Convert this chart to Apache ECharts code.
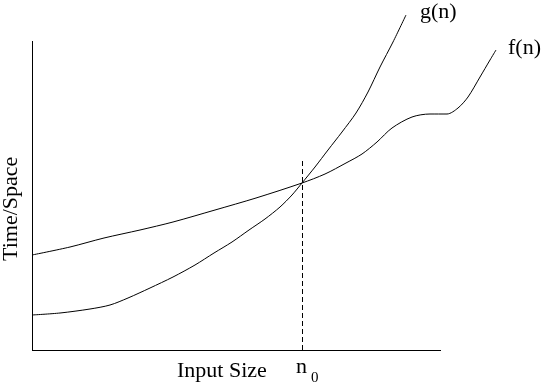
<!DOCTYPE html>
<html><head><meta charset="utf-8">
<script src="https://cdn.jsdelivr.net/npm/echarts@6/dist/echarts.min.js"></script>
<style>html,body{margin:0;padding:0;background:#fff}#c{width:542px;height:385px}</style>
</head><body><div id="c"></div>
<script>
// Curve samples [input size, time/space] in arbitrary axis units
const gData = [[0,35],[28,37],[58,41],[78,45],[96,52],[118,62],[141,73],[163,85],[182,97],[200,108],[217,120],[233,131],[248,143],[260,155],[270,167],[283,183],[296,200],[310,218],[324,237],[336,258],[348,283],[361,308],[374,335]];
const fData = [[0,95],[38,103],[72,112],[108,120],[141,128],[183,140],[224,152],[270,167],[293,176],[314,187],[330,196],[345,208],[360,222],[380,233],[398,236],[415,236],[426,242],[436,253],[448,273],[458,290],[464,300]];
const n0 = 270;        // crossing point
const n0Top = 190;     // top of dashed guide
const axisXEnd = 409;  // visible extent of drawn axes
const axisYEnd = 309;
const xMax = 468, yMax = 335;
const font = '"Liberation Serif", "Times New Roman", serif';

const chart = echarts.init(document.getElementById('c'), null, {renderer:'canvas'});
chart.setOption({
  animation:false,
  grid:{left:32,right:42,top:15,bottom:35},
  xAxis:{type:'value',min:0,max:xMax,axisLine:{show:false},axisTick:{show:false},axisLabel:{show:false},splitLine:{show:false}},
  yAxis:{type:'value',min:0,max:yMax,axisLine:{show:false},axisTick:{show:false},axisLabel:{show:false},splitLine:{show:false}},
  series:[
    {name:'g(n)',type:'line',data:gData,smooth:0.3,showSymbol:false,lineStyle:{color:'#000',width:1},
     endLabel:{show:true,formatter:'g(n)',color:'#000',fontFamily:font,fontSize:22,offset:[6,-3]},
     markLine:{silent:true,symbol:'none',label:{show:false},lineStyle:{color:'#000',width:1,type:'solid'},
       data:[[{coord:[0,0]},{coord:[axisXEnd,0]}],[{coord:[0,0]},{coord:[0,axisYEnd]}]]}},
    {name:'f(n)',type:'line',data:fData,smooth:0.3,showSymbol:false,lineStyle:{color:'#000',width:1},
     endLabel:{show:true,formatter:'f(n)',color:'#000',fontFamily:font,fontSize:22,offset:[4,-2]},
     markLine:{silent:true,symbol:'none',label:{show:false},lineStyle:{color:'#000',width:1,type:[5,3]},
       data:[[{coord:[n0,0]},{coord:[n0,n0Top]}]]}}
  ],
  graphic:[
    {type:'text',left:177,top:360,style:{text:'Input Size',font:'22px '+font,fill:'#000'}},
    {type:'text',left:296,top:356,style:{text:'n',font:'22px '+font,fill:'#000'}},
    {type:'text',left:311,top:371,style:{text:'0',font:'15px '+font,fill:'#000'}},
    {type:'text',x:0,y:261,rotation:Math.PI/2,style:{text:'Time/Space',font:'22px '+font,fill:'#000'}}
  ]
});
</script></body></html>
